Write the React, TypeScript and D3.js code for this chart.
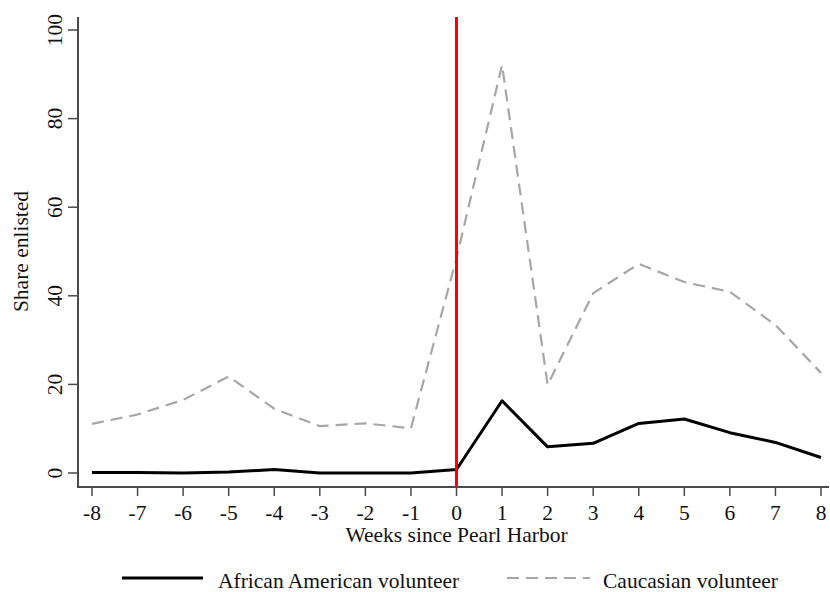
import React from "react";
import * as d3 from "d3";

const weeks = [-8, -7, -6, -5, -4, -3, -2, -1, 0, 1, 2, 3, 4, 5, 6, 7, 8];
const africanAmerican = [0.1, 0.1, 0, 0.2, 0.8, 0, 0, 0, 0.8, 16.3, 5.9, 6.7, 11.2, 12.2, 9.1, 6.9, 3.5];
const caucasian = [11.1, 13.2, 16.5, 21.8, 14.5, 10.6, 11.2, 10.1, 48.5, 92.1, 19.9, 40.6, 47.2, 43.1, 40.9, 33.4, 22.6];
const yTicks = [0, 20, 40, 60, 80, 100];

const font = "'Liberation Serif', 'Times New Roman', serif";
const axisColor = "#4a4a4a";
const fs = 21.5;

export default function App() {
  const width = 830;
  const height = 592;

  const x = d3.scaleLinear().domain([-8, 8]).range([92, 821]);
  const y = d3.scaleLinear().domain([0, 100]).range([473, 30]);

  const axisLeft = 78;
  const axisBottom = 487;

  const line = d3
    .line<number>()
    .x((d, i) => x(weeks[i]))
    .y((d) => y(d));

  return (
    <svg
      width={width}
      height={height}
      style={{ position: "absolute", left: 0, top: 0, background: "#fff" }}
      fontFamily={font}
    >
      <rect width={width} height={height} fill="#fff" />

      {/* axes */}
      <line x1={axisLeft} x2={axisLeft} y1={17} y2={axisBottom + 1} stroke={axisColor} strokeWidth={2} />
      <line x1={axisLeft} x2={829} y1={axisBottom} y2={axisBottom} stroke={axisColor} strokeWidth={2} />

      {yTicks.map((t) => (
        <g key={t}>
          <line x1={axisLeft - 10} x2={axisLeft} y1={y(t)} y2={y(t)} stroke={axisColor} strokeWidth={1.5} />
          <text
            transform={`translate(62,${y(t)}) rotate(-90)`}
            textAnchor="middle"
            fontSize={fs}
            fill="#111"
          >
            {t}
          </text>
        </g>
      ))}

      {weeks.map((w) => (
        <g key={w}>
          <line x1={x(w)} x2={x(w)} y1={axisBottom} y2={axisBottom + 9} stroke={axisColor} strokeWidth={1.5} />
          <text x={x(w)} y={520} textAnchor="middle" fontSize={fs} fill="#111">
            {w}
          </text>
        </g>
      ))}

      <text x={x(0)} y={542} textAnchor="middle" fontSize={fs} fill="#111">
        Weeks since Pearl Harbor
      </text>
      <text transform={`translate(28,${y(50)}) rotate(-90)`} textAnchor="middle" fontSize={fs} fill="#111">
        Share enlisted
      </text>

      {/* series */}
      <path d={line(caucasian) || ""} fill="none" stroke="#a6a6a6" strokeWidth={2.2} strokeDasharray="12 7" />
      <path d={line(africanAmerican) || ""} fill="none" stroke="#000" strokeWidth={3} strokeLinejoin="round" />

      <line x1={x(0)} x2={x(0)} y1={17} y2={axisBottom} stroke="#ff0000" strokeWidth={3} />

      {/* legend */}
      <line x1={122} x2={203} y1={578} y2={578} stroke="#000" strokeWidth={3} />
      <text x={218} y={588} fontSize={fs} fill="#111">
        African American volunteer
      </text>
      <line x1={507} x2={590} y1={578} y2={578} stroke="#a6a6a6" strokeWidth={2.2} strokeDasharray="12 7" />
      <text x={603} y={588} fontSize={fs} fill="#111">
        Caucasian volunteer
      </text>
    </svg>
  );
}
